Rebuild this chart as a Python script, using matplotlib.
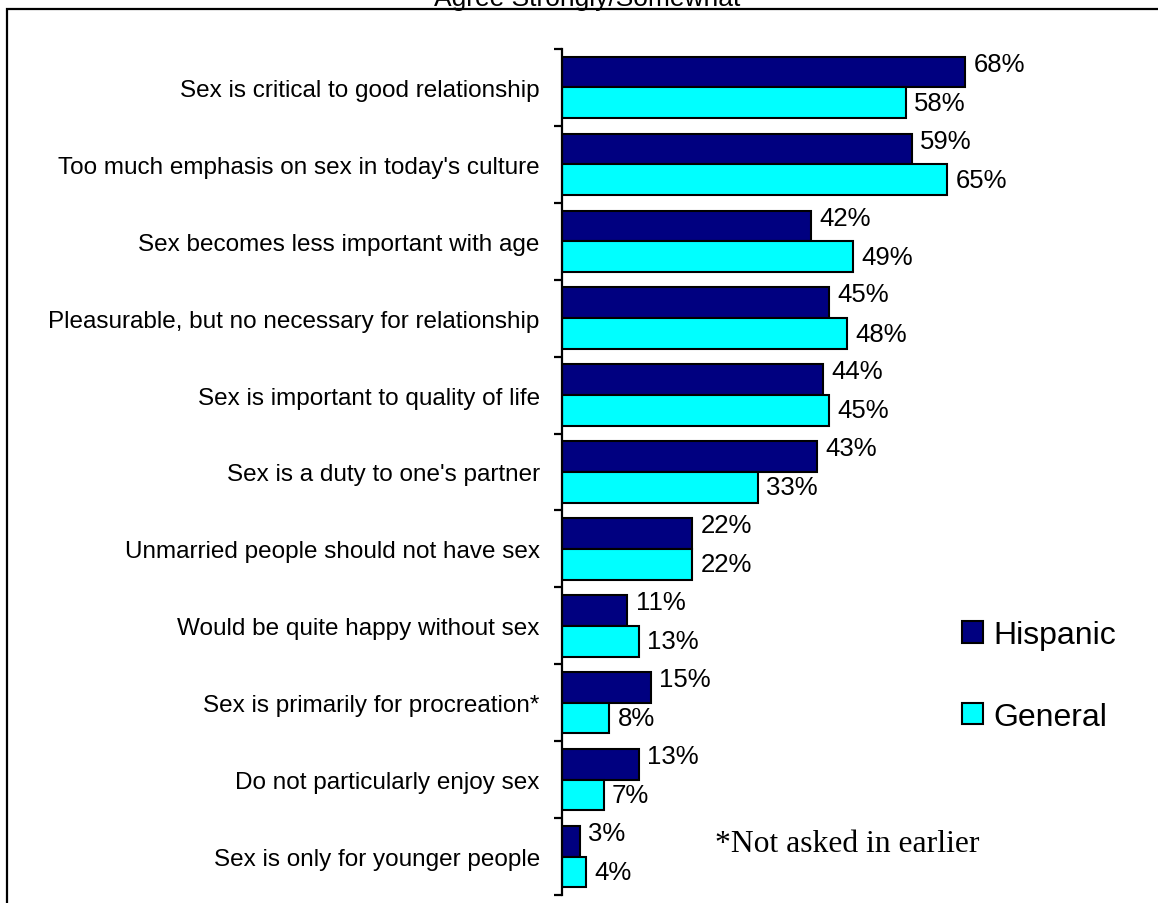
"""
Agree Strongly/Somewhat — Hispanic vs General sample
Horizontal grouped bar chart, saved as out.png
"""

import numpy as np
import matplotlib
matplotlib.use("Agg")
import matplotlib.pyplot as plt
from matplotlib.patches import Rectangle

# ── Data ───────────────────────────────────────────────────
STATEMENTS = [
    "Sex is critical to good relationship",
    "Too much emphasis on sex in today's culture",
    "Sex becomes less important with age",
    "Pleasurable, but no necessary for relationship",
    "Sex is important to quality of life",
    "Sex is a duty to one's partner",
    "Unmarried people should not have sex",
    "Would be quite happy without sex",
    "Sex is primarily for procreation*",
    "Do not particularly enjoy sex",
    "Sex is only for younger people",
]
HISPANIC = [68, 59, 42, 45, 44, 43, 22, 11, 15, 13, 3]
GENERAL  = [58, 65, 49, 48, 45, 33, 22, 13, 8, 7, 4]

SERIES_NAMES = ["Hispanic", "General"]
COLORS       = ["#000080", "#00FFFF"]

TITLE    = "Agree Strongly/Somewhat"
FOOTNOTE = "*Not asked in earlier"

# ── Figure ─────────────────────────────────────────────────
W, H, DPI = 1158, 904, 100
fig = plt.figure(figsize=(W / DPI, H / DPI), dpi=DPI)
plt.rcParams["font.family"] = ["Liberation Sans", "DejaVu Sans"]

# outer frame (top + left visible, rest runs off the canvas)
fig.patches.append(Rectangle((7 / W, -0.05), 1.1, 1 - 10 / H + 0.05,
                             transform=fig.transFigure, fill=False,
                             edgecolor="black", linewidth=1.6))
# title sits partly above the canvas, as in the source
fig.text(587 / W, 1 - 6 / H, TITLE, ha="center", va="baseline", fontsize=19)

ax = fig.add_axes([562 / W, 1 - 896 / H, (1150 - 562) / W, 846 / H])

y = np.arange(len(STATEMENTS))
bar_h = 0.4
b1 = ax.barh(y - bar_h / 2, HISPANIC, height=bar_h, color=COLORS[0],
             edgecolor="black", linewidth=1.5, label=SERIES_NAMES[0])
b2 = ax.barh(y + bar_h / 2, GENERAL, height=bar_h, color=COLORS[1],
             edgecolor="black", linewidth=1.5, label=SERIES_NAMES[1])

# value labels
for rect, v in zip(b1, HISPANIC):
    ax.annotate(f"{v}%", (rect.get_width(), rect.get_y() + rect.get_height() / 2),
                xytext=(6, 6), textcoords="offset points",
                ha="left", va="center", fontsize=18.5)
for rect, v in zip(b2, GENERAL):
    ax.annotate(f"{v}%", (rect.get_width(), rect.get_y() + rect.get_height() / 2),
                xytext=(6, 0), textcoords="offset points",
                ha="left", va="center", fontsize=18.5)

ax.set_xlim(0, (1150 - 562) / 5.93)
ax.set_ylim(len(STATEMENTS) - 0.5, -0.5)

# boundary ticks (major) and category labels (minor)
ax.set_yticks(np.arange(len(STATEMENTS) + 1) - 0.5)
ax.set_yticklabels([])
ax.tick_params(axis="y", which="major", direction="out", length=6, width=1.6)
ax.set_yticks(y, minor=True)
ax.set_yticklabels(STATEMENTS, minor=True, fontsize=17.5)
ax.tick_params(axis="y", which="minor", length=0, pad=16)
ax.set_xticks([])

for side in ["top", "right", "bottom"]:
    ax.spines[side].set_visible(False)
ax.spines["left"].set_linewidth(1.6)

# legend
fig.legend(handles=[b1, b2], labels=SERIES_NAMES, loc="center left",
           bbox_to_anchor=(962 / W, 1 - 677 / H), frameon=False,
           fontsize=23, handlelength=0.66, handleheight=0.66,
           handletextpad=0.33, labelspacing=1.6, borderpad=0, borderaxespad=0)

fig.text(715 / W, 1 - 852 / H, FOOTNOTE, ha="left", va="baseline",
         fontsize=22.8, family=["Liberation Serif", "DejaVu Serif"])

plt.savefig("out.png", dpi=DPI)
plt.close()
